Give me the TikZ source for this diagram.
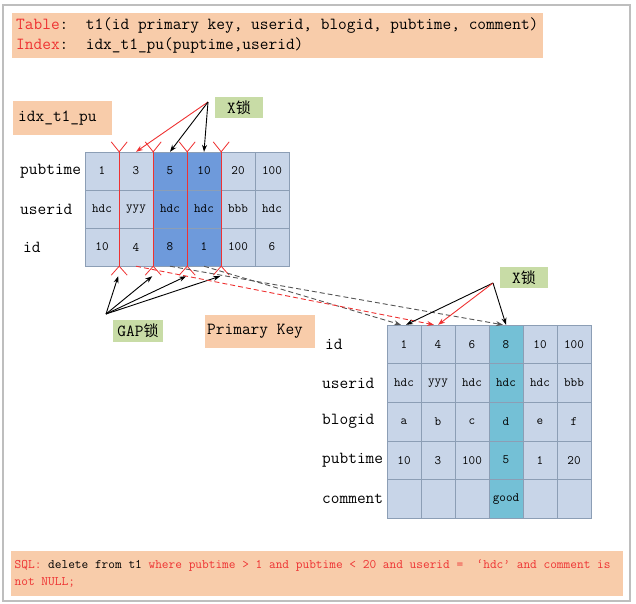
\documentclass[tikz,border=0pt]{standalone}
\usepackage{xcolor}
\usepackage{fontspec}
\usepackage{tikz}
\usetikzlibrary{arrows.meta}
\newfontfamily\cjk{Noto Sans CJK SC}
\definecolor{MyOrange}{RGB}{248,204,170}
\definecolor{MyGreen}{RGB}{200,220,166}
\definecolor{MyLightBlue}{RGB}{200,213,232}
\definecolor{MyDarkBlue}{RGB}{110,154,219}
\definecolor{MyTeal}{RGB}{116,192,214}
\definecolor{MyGrid}{RGB}{140,158,181}
\definecolor{MyRed}{RGB}{238,50,50}
\definecolor{MyDash}{RGB}{85,85,85}
\definecolor{MyFrame}{RGB}{190,190,190}
\newcommand{\bigtt}{\ttfamily\fontsize{16.9}{20}\selectfont}
\newcommand{\celltt}{\ttfamily\fontsize{12.8}{14}\selectfont}
\newcommand{\monospace}{\spaceskip=0pt\xspaceskip=0pt\relax}
\newcommand{\suo}{{\cjk\fontsize{15}{15}\selectfont 锁}}
\tikzset{
    namebox/.style={fill=MyOrange, inner ysep=0pt, align=left, font=\bigtt},
    lockbox/.style={fill=MyGreen, inner sep=0pt, font=\bigtt},
    cell/.style={draw=MyGrid, minimum width=34pt, minimum height=38pt, inner sep=0pt, font=\celltt},
    pcell/.style={cell, minimum height=38.6pt},
    rowname/.style={anchor=west, inner sep=0pt, font=\bigtt},
    gapmark/.style={draw=MyRed, line width=0.8pt},
    lockarrow/.style={->, line width=0.9pt},
    pkdash/.style={->, MyDash, dashed, dash pattern=on 5pt off 3pt, line width=0.9pt}
}

\begin{document}
\begin{tikzpicture}[x=1pt, y=-1pt, >={Stealth[length=7pt,width=5pt]}]
    \useasboundingbox (0,0) rectangle (636,603);
    \draw[MyFrame, line width=1.3pt] (3,5) rectangle (630,601);
    % header
    \node[namebox, anchor=north west, text width=523pt, inner xsep=4pt, minimum height=45pt] (hdr) at (12,13)
        {\monospace\textcolor{MyRed}{Table}:\ \ t1(id primary key, userid, blogid, pubtime, comment)\\\textcolor{MyRed}{Index}:\ \ idx\_t1\_pu(puptime,userid)};
    % index idx_t1_pu
    \node[namebox, anchor=north west, text width=89pt, inner xsep=5pt, minimum height=34pt] (idxname) at (13,101) {idx\_t1\_pu};
    \node[rowname] (ipub) at (20,171) {pubtime};
    \node[rowname] (iusr) at (20,209) {userid};
    \node[rowname] (iid) at (23,247) {id};
    \foreach \c/\pub/\usr/\pid/\col in {1/1/hdc/10/MyLightBlue, 2/3/yyy/4/MyLightBlue, 3/5/hdc/8/MyDarkBlue,
        4/10/hdc/1/MyDarkBlue, 5/20/bbb/100/MyLightBlue, 6/100/hdc/6/MyLightBlue} {
        \node[cell, fill=\col] (i-\c-1) at (68+34*\c,171) {\pub};
        \node[cell, fill=\col] (i-\c-2) at (68+34*\c,209) {\usr};
        \node[cell, fill=\col] (i-\c-3) at (68+34*\c,247) {\pid};
    }
    \foreach \c in {1,...,4} {
        \draw[gapmark] (i-\c-1.north east) -- (i-\c-3.south east);
        \draw[gapmark] ([shift={(-8,-10)}]i-\c-1.north east) -- (i-\c-1.north east) -- ([shift={(8,-10)}]i-\c-1.north east);
        \draw[gapmark] ([shift={(-8,9)}]i-\c-3.south east) -- (i-\c-3.south east) -- ([shift={(8,9)}]i-\c-3.south east);
        \coordinate (g\c) at ([shift={(-1,10)}]i-\c-3.south east);
    }
    % X lock on the index
    \node[lockbox, minimum width=48pt, minimum height=21pt] (xlocki) at (239,107.5) {X\suo};
    \coordinate (xi) at (208,102);
    \draw[lockarrow, MyRed] (xi) -- (i-2-1.north);
    \draw[lockarrow] (xi) -- (i-3-1.north);
    \draw[lockarrow] (xi) -- (i-4-1.north);
    % GAP lock
    \node[lockbox, minimum width=50pt, minimum height=22pt] (gaplock) at (138,331) {GAP\suo};
    \coordinate (gp) at (106,314);
    \foreach \c in {1,...,4}
        \draw[lockarrow] (gp) -- (g\c);
    % primary key
    \node[namebox, anchor=north west, text width=106pt, inner xsep=2pt, minimum height=33pt] (pkname) at (205,315) {\monospace Primary Key};
    \node[rowname] (pid) at (325,344.3) {id};
    \node[rowname] (pusr) at (322,382.9) {userid};
    \node[rowname] (pblg) at (322,421.5) {blogid};
    \node[rowname] (ppub) at (322,460.1) {pubtime};
    \node[rowname] (pcmt) at (322,498.7) {comment};
    \foreach \c/\pid/\usr/\blg/\pub/\cmt/\col in {1/1/hdc/a/10/{}/MyLightBlue, 2/4/yyy/b/3/{}/MyLightBlue,
        3/6/hdc/c/100/{}/MyLightBlue, 4/8/hdc/d/5/good/MyTeal, 5/10/hdc/e/1/{}/MyLightBlue, 6/100/bbb/f/20/{}/MyLightBlue} {
        \node[pcell, fill=\col] (p-\c-1) at (370+34*\c,344.3) {\pid};
        \node[pcell, fill=\col] (p-\c-2) at (370+34*\c,382.9) {\usr};
        \node[pcell, fill=\col] (p-\c-3) at (370+34*\c,421.5) {\blg};
        \node[pcell, fill=\col] (p-\c-4) at (370+34*\c,460.1) {\pub};
        \node[pcell, fill=\col] (p-\c-5) at (370+34*\c,498.7) {\cmt};
    }
    % index entries to primary rows
    \draw[pkdash] (i-4-3.south) -- ([xshift=-3pt]p-1-1.north);
    \draw[pkdash, MyRed] (i-2-3.south) -- ([xshift=-4pt]p-2-1.north);
    \draw[pkdash] (i-3-3.south) -- ([xshift=-3pt]p-4-1.north);
    % X lock on the primary key
    \node[lockbox, minimum width=48pt, minimum height=21pt] (xlockp) at (524,277.5) {X\suo};
    \coordinate (xp) at (493,283);
    \draw[lockarrow] (xp) -- ([xshift=2pt]p-1-1.north);
    \draw[lockarrow, MyRed] (xp) -- (p-2-1.north);
    \draw[lockarrow] (xp) -- (p-4-1.north);
    % statement
    \node[namebox, anchor=north west, text width=605pt, inner xsep=3.5pt, minimum height=45pt,
        font=\ttfamily\fontsize{13}{16.5}\selectfont] (sql) at (11,551)
        {\monospace\textcolor{MyRed}{SQL:} delete from t1 \textcolor{MyRed}{where pubtime > 1 and pubtime < 20 and userid =\ \ ‘hdc’ and comment is}\\\textcolor{MyRed}{not NULL;}};
\end{tikzpicture}
\end{document}
